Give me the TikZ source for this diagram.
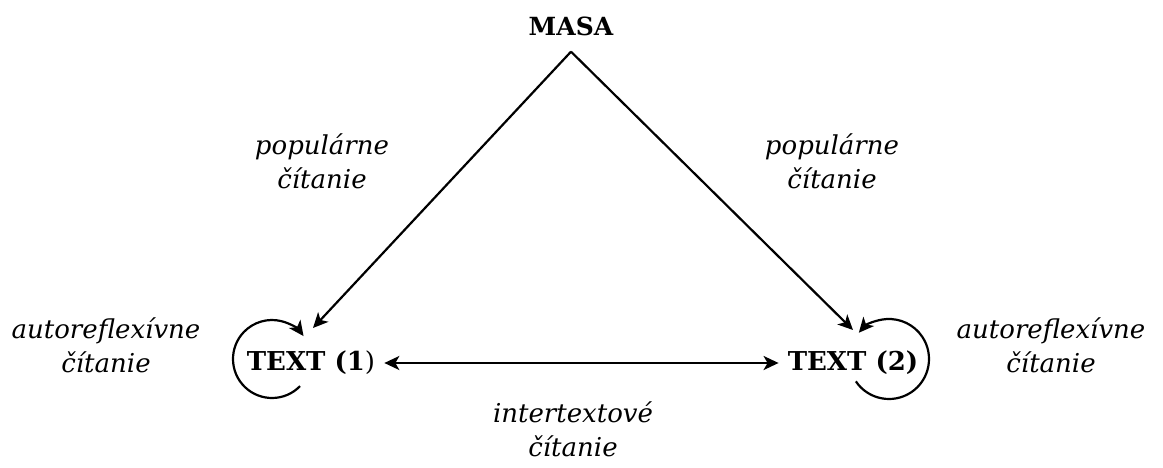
\documentclass[tikz,border=0pt]{standalone}
\usepackage{fontspec}
\setmainfont{DejaVu Serif}
\usetikzlibrary{arrows.meta}
\tikzset{
    arr/.style={line width=2.2pt, -{Stealth[length=15pt, width=14pt, inset=4pt]}},
    bothway/.style={line width=2.2pt, {Stealth[length=15pt, width=14pt, inset=4pt]}-{Stealth[length=15pt, width=14pt, inset=4pt]}},
    topnode/.style={font=\fontsize{25}{28}\selectfont\bfseries, inner sep=0pt},
    textnode/.style={font=\fontsize{26}{30}\selectfont\bfseries, inner xsep=9pt, inner ysep=0pt},
    readnote/.style={font=\fontsize{26}{34}\selectfont\itshape, align=center, inner sep=0pt}
}
\begin{document}
\begin{tikzpicture}[x=1pt, y=-1pt]
    \useasboundingbox (0,0) rectangle (1163,468);
    \node(masa) [topnode] at (571,26) {MASA};
    \node(text1) [textnode] at (311,363) {TEXT (1{\mdseries )}};
    \node(text2) [textnode] at (853,363) {TEXT (2)};
    \coordinate (apex) at ([yshift=-16pt]masa.south);
    \coordinate (in1) at (313,328);
    \coordinate (in2) at (853,330);
    \draw[arr] (apex) -- (in1);
    \draw[arr] (apex) -- (in2);
    \draw[bothway] (text1.east) -- (text2.west);
    \draw[arr] (272,359) ++(44:39) arc (44:324:39);
    \draw[arr] (889,359) ++(146:40) arc (146:-139:40);
    \node(pop1) [readnote] at (322,161) {populárne\\čítanie};
    \node(pop2) [readnote] at (832,161) {populárne\\čítanie};
    \node(auto1) [readnote] at (106,345) {autoreflexívne\\čítanie};
    \node(auto2) [readnote] at (1051,345) {autoreflexívne\\čítanie};
    \node(inter) [readnote] at (573,429) {intertextové\\čítanie};
\end{tikzpicture}
\end{document}
